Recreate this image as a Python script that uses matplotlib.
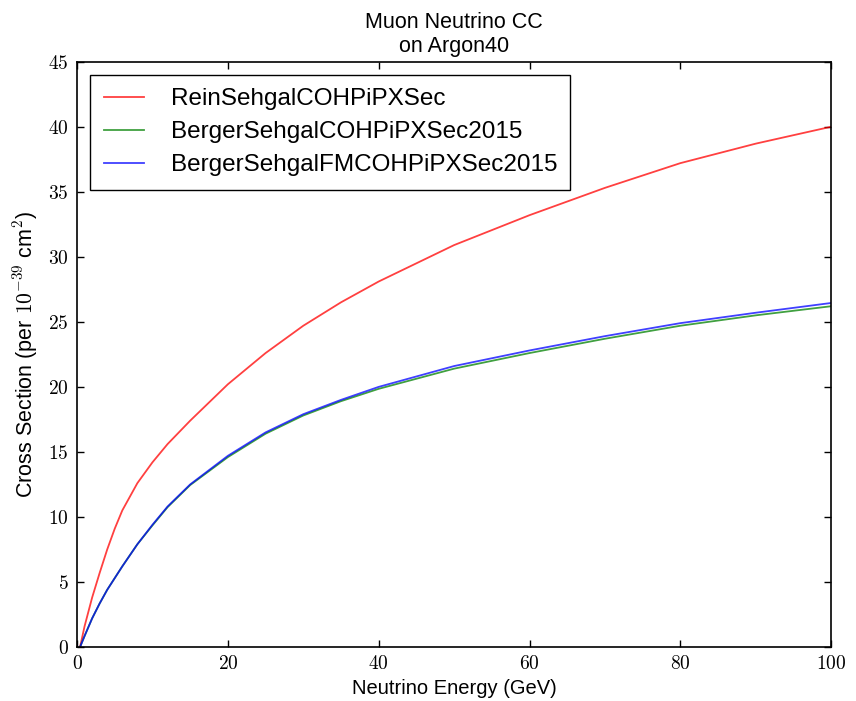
import matplotlib
matplotlib.use("Agg")
import matplotlib.pyplot as plt
from matplotlib.ticker import FuncFormatter, MultipleLocator

# Neutrino energy (GeV)
energy = [0.4, 1, 2, 3, 4, 5, 6, 8, 10, 12, 15, 20, 25, 30, 35, 40, 50, 60,
          70, 80, 90, 100]

# Cross sections (per 1e-39 cm^2)
rein_sehgal = [0.0, 1.6, 3.8, 5.7, 7.5, 9.1, 10.5, 12.6, 14.2, 15.6, 17.4, 20.2,
               22.6, 24.7, 26.5, 28.1, 30.9, 33.2, 35.3, 37.2, 38.7, 40.0]
berger_sehgal = [0.0, 0.85, 2.2, 3.35, 4.4, 5.3, 6.2, 7.9, 9.35, 10.75, 12.45, 14.6,
                 16.4, 17.8, 18.9, 19.85, 21.4, 22.6, 23.7, 24.7, 25.5, 26.2]
berger_sehgal_fm = [0.0, 0.85, 2.2, 3.35, 4.4, 5.3, 6.2, 7.9, 9.4, 10.8, 12.5, 14.7,
                    16.5, 17.9, 19.0, 20.0, 21.6, 22.8, 23.9, 24.9, 25.7, 26.45]

series = [
    ("ReinSehgalCOHPiPXSec", rein_sehgal, "#ff0000"),
    ("BergerSehgalCOHPiPXSec2015", berger_sehgal, "#008000"),
    ("BergerSehgalFMCOHPiPXSec2015", berger_sehgal_fm, "#0000ff"),
]

plt.rcParams["font.family"] = ["Liberation Sans", "DejaVu Sans"]
plt.rcParams["mathtext.fontset"] = "cm"

fig = plt.figure(figsize=(8.56, 7.01), dpi=100)
ax = fig.add_axes([0.090, 0.077, 0.881, 0.835])

for name, values, color in series:
    ax.plot(energy, values, color=color, lw=1.3, alpha=0.75, label=name)

ax.set_xlim(0, 100)
ax.set_ylim(0, 45)
ax.xaxis.set_major_locator(MultipleLocator(20))
ax.yaxis.set_major_locator(MultipleLocator(5))
math_fmt = FuncFormatter(lambda v, pos: f"${v:g}$")
ax.xaxis.set_major_formatter(math_fmt)
ax.yaxis.set_major_formatter(math_fmt)
ax.tick_params(direction="in", top=True, right=True, length=5, width=1,
               labelsize=14, pad=6)
for spine in ax.spines.values():
    spine.set_linewidth(1.2)

ax.set_xlabel("Neutrino Energy (GeV)", fontsize=14.5, labelpad=4)
ax.set_ylabel("Cross Section (per $10^{-39}$ cm$^2$)", fontsize=15.5, labelpad=6)
ax.set_title("Muon Neutrino CC\non Argon40", fontsize=15.5, linespacing=1.2, pad=7)

leg = ax.legend(loc="upper left", fontsize=17.5, handlelength=1.65, handletextpad=1.1,
                borderpad=0.55, labelspacing=0.45, fancybox=False, framealpha=1,
                borderaxespad=0.55)
leg.get_frame().set_edgecolor("black")
leg.get_frame().set_linewidth(1.0)

fig.savefig("out.png", dpi=100, facecolor="white")
